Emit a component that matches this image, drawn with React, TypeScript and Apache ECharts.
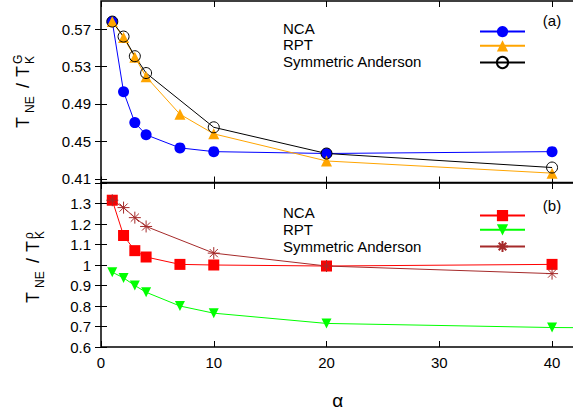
import React, { useEffect, useRef } from 'react';
import * as echarts from 'echarts';

// ---- data (panel a) ----
const alphaA = [1, 2, 3, 4, 7, 10, 20, 40];
const ncaA = [0.578, 0.503, 0.47, 0.457, 0.443, 0.439, 0.437, 0.439];
const rptA = [0.578, 0.561, 0.54, 0.519, 0.479, 0.458, 0.429, 0.416];
const alphaSA = [1, 2, 3, 4, 10, 20, 40];
const saA = [0.578, 0.562, 0.541, 0.523, 0.465, 0.437, 0.422];

// ---- data (panel b) ----
const alphaB = [1, 2, 3, 4, 7, 10, 20, 40];
const ncaB = [1.316, 1.144, 1.07, 1.039, 1.003, 1.0, 0.995, 1.003];
const alphaRptB = [1, 2, 3, 4, 7, 10, 20, 40, 50];
const rptB = [0.965, 0.937, 0.9, 0.867, 0.8, 0.765, 0.715, 0.695, 0.692];
const saB = [1.316, 1.28, 1.231, 1.188, 1.058, 0.995, 0.958];

// ---- ticks ----
const xTicks = [0, 10, 20, 30, 40];
const yTicksA = [0.41, 0.45, 0.49, 0.53, 0.57];
const yTicksB = [0.6, 0.7, 0.8, 0.9, 1, 1.1, 1.2, 1.3];
const yTickMarksB = [0.6, 0.7, 0.8, 0.9, 1, 1.1, 1.2, 1.3, 1.4];

const legendNames = ['NCA', 'RPT', 'Symmetric Anderson'];

const FONT = "'Liberation Sans', Arial, Helvetica, sans-serif";
const ASTERISK = 'path://M5,0L5,10M0,5L10,5M1.6,1.6L8.4,8.4M1.6,8.4L8.4,1.6';

const zip = (xs: number[], ys: number[]) => ys.map((y, i) => [xs[i], y]);

const tickStyle = { inside: true, length: 6, lineStyle: { color: '#000', width: 1 } };

function xAxis(grid: number, position: 'top' | 'bottom', labels: boolean, name?: string) {
  return {
    type: 'value',
    gridIndex: grid,
    position,
    min: 0,
    max: 42,
    axisLine: { show: false },
    splitLine: { show: false },
    axisTick: { ...tickStyle, customValues: xTicks },
    axisLabel: {
      show: labels,
      customValues: xTicks,
      color: '#000',
      fontSize: 15,
      fontFamily: FONT,
      margin: 8,
    },
    name: name || '',
    nameLocation: 'middle',
    nameGap: 44,
    nameTextStyle: { fontSize: 19, fontFamily: FONT, color: '#000' },
  };
}

function yAxis(grid: number, position: 'left' | 'right', min: number, max: number, ticks: number[], labels: number[], show: boolean) {
  return {
    type: 'value',
    gridIndex: grid,
    position,
    min,
    max,
    axisLine: { show: false },
    splitLine: { show: false },
    axisTick: { ...tickStyle, customValues: ticks },
    axisLabel: {
      show,
      customValues: labels,
      color: '#000',
      fontSize: 15,
      fontFamily: FONT,
      margin: 10,
    },
  };
}

function legendText(y: number, i: number) {
  return {
    type: 'text',
    x: 283,
    y,
    style: { text: legendNames[i], font: `15px ${FONT}`, fill: '#000', verticalAlign: 'middle', align: 'left' },
  };
}

function yTitle(x: number, y: number, sup: string, supY: number) {
  const big = `18px ${FONT}`;
  const small = `12px ${FONT}`;
  const t = (text: string, lx: number, ly: number, font: string) => ({
    type: 'text',
    x: lx,
    y: ly,
    style: { text, font, fill: '#000', verticalAlign: 'middle', align: 'left' },
  });
  return {
    type: 'group',
    x,
    y,
    rotation: Math.PI / 2,
    children: [
      t('T', 0, -6.8, big),
      t('NE', 15, 0.4, small),
      t('/', 40, -6.8, big),
      t('T', 51, -6.8, big),
      t('K', 64, 0.4, small),
      t(sup, 64, supY, small),
    ],
  };
}

function legend(names: string[], top: number) {
  return {
    data: names,
    orient: 'vertical',
    left: 474,
    top,
    itemWidth: 45,
    itemHeight: 14,
    itemGap: 3,
    selectedMode: false,
    formatter: () => '',
    textStyle: { fontSize: 12, lineHeight: 12 },
  };
}

export default function App() {
  const ref = useRef<HTMLDivElement>(null);
  useEffect(() => {
    const chart = echarts.init(ref.current!, null, { renderer: 'svg' });
    const gridBase = {
      left: 101,
      width: 473.6,
      show: true,
      borderColor: '#000',
      borderWidth: 1.5,
      backgroundColor: 'transparent',
    };
    const option: any = {
      animation: false,
      backgroundColor: '#fff',
      grid: [
        { ...gridBase, top: 1, height: 181.5 },
        { ...gridBase, top: 183, height: 170.3 },
      ],
      xAxis: [
        xAxis(0, 'bottom', false),
        xAxis(0, 'top', false),
        xAxis(1, 'bottom', true, 'α'),
        xAxis(1, 'top', false),
      ],
      yAxis: [
        yAxis(0, 'left', 0.406, 0.6, yTicksA, yTicksA, true),
        yAxis(0, 'right', 0.406, 0.6, yTicksA, yTicksA, false),
        yAxis(1, 'left', 0.6, 1.4, yTickMarksB, yTicksB, true),
        yAxis(1, 'right', 0.6, 1.4, yTickMarksB, yTicksB, false),
      ],
      legend: [
        legend(['NCA|a', 'RPT|a', 'SA|a'], 21),
        legend(['NCA|b', 'RPT|b', 'SA|b'], 205),
      ],
      series: [
        {
          name: 'NCA|a', type: 'line', xAxisIndex: 0, yAxisIndex: 0,
          data: zip(alphaA, ncaA), symbol: 'circle', symbolSize: 11,
          itemStyle: { color: '#0000ff' }, lineStyle: { color: '#0000ff', width: 1 },
        },
        {
          name: 'RPT|a', type: 'line', xAxisIndex: 0, yAxisIndex: 0,
          data: zip(alphaA, rptA), symbol: 'triangle', symbolSize: 11,
          itemStyle: { color: '#ffa500' }, lineStyle: { color: '#ffa500', width: 1 },
        },
        {
          name: 'SA|a', type: 'line', xAxisIndex: 0, yAxisIndex: 0,
          data: zip(alphaSA, saA), symbol: 'circle', symbolSize: 11,
          itemStyle: { color: 'none', borderColor: '#000', borderWidth: 1 },
          lineStyle: { color: '#000', width: 1 },
        },
        {
          name: 'NCA|b', type: 'line', xAxisIndex: 2, yAxisIndex: 2,
          data: zip(alphaB, ncaB), symbol: 'rect', symbolSize: 11,
          itemStyle: { color: '#ff0000' }, lineStyle: { color: '#ff0000', width: 1 },
        },
        {
          name: 'RPT|b', type: 'line', xAxisIndex: 2, yAxisIndex: 2, clip: true,
          data: zip(alphaRptB, rptB), symbol: 'triangle', symbolRotate: 180, symbolSize: 10,
          itemStyle: { color: '#00ff00' }, lineStyle: { color: '#00ff00', width: 1 },
        },
        {
          name: 'SA|b', type: 'line', xAxisIndex: 2, yAxisIndex: 2,
          data: zip(alphaSA, saB), symbol: ASTERISK, symbolSize: 12,
          itemStyle: { color: 'none', borderColor: '#a52a2a', borderWidth: 1 },
          lineStyle: { color: '#a52a2a', width: 1 },
        },
      ],
      graphic: [
        legendText(28, 0),
        legendText(44.5, 1),
        legendText(61, 2),
        legendText(212, 0),
        legendText(229, 1),
        legendText(246, 2),
        { type: 'text', x: 552, y: 20, style: { text: '(a)', font: `15px ${FONT}`, fill: '#000', align: 'center', verticalAlign: 'middle' } },
        { type: 'text', x: 552, y: 205, style: { text: '(b)', font: `15px ${FONT}`, fill: '#000', align: 'center', verticalAlign: 'middle' } },
        yTitle(30, 128, 'G', -11.6),
        yTitle(40, 303, 'ρ', -10.6),
      ],
    };
    chart.setOption(option);
    return () => chart.dispose();
  }, []);
  return (
    <div style={{ position: 'fixed', left: 0, top: 0, width: 573, height: 411, overflow: 'hidden', background: '#fff' }}>
      <div ref={ref} style={{ width: 580, height: 411 }} />
    </div>
  );
}
